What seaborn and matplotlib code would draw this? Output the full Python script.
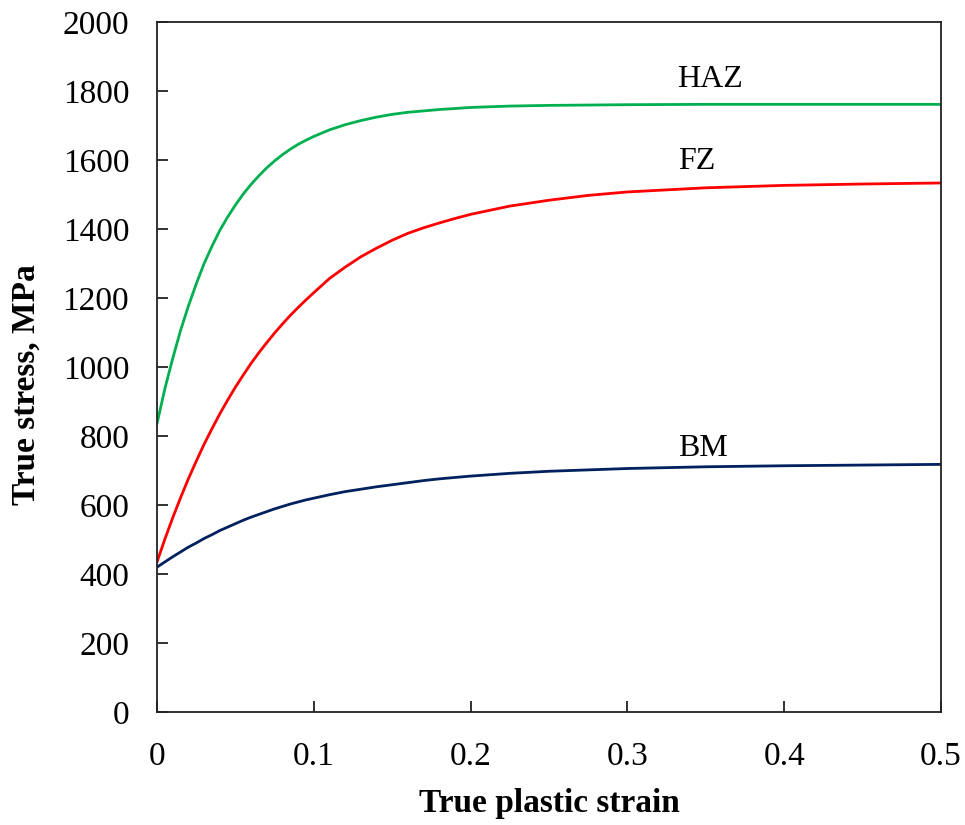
import matplotlib
matplotlib.use("Agg")
import matplotlib.pyplot as plt
import seaborn as sns
import pandas as pd

# Data
strain = [0.0, 0.005, 0.01, 0.015, 0.02, 0.025, 0.03, 0.035, 0.04, 0.045, 0.05,
          0.055, 0.06, 0.065, 0.07, 0.075, 0.08, 0.085, 0.09, 0.095, 0.10,
          0.11, 0.12, 0.13, 0.14, 0.15, 0.16, 0.17, 0.18, 0.19, 0.20,
          0.225, 0.25, 0.275, 0.30, 0.35, 0.40, 0.45, 0.50]
haz = [836, 937, 1025, 1106, 1177, 1241, 1300, 1350, 1396, 1435, 1470,
       1502, 1530, 1555, 1578, 1598, 1616, 1632, 1646, 1658, 1669,
       1688, 1703, 1715, 1725, 1733, 1739, 1743, 1747, 1750, 1753,
       1757, 1759, 1760, 1761, 1762, 1762, 1762, 1762]
fz = [435, 501, 563, 621, 676, 727, 776, 821, 864, 904, 942,
      977, 1011, 1042, 1071, 1099, 1125, 1150, 1173, 1195, 1216,
      1257, 1290, 1320, 1345, 1368, 1388, 1404, 1418, 1431, 1443,
      1467, 1484, 1498, 1508, 1520, 1527, 1531, 1534]
bm = [420, 435, 450, 464, 478, 490, 503, 514, 526, 536, 546,
      556, 565, 573, 581, 589, 596, 603, 609, 615, 620,
      630, 639, 646, 653, 659, 665, 671, 676, 680, 684,
      692, 698, 702, 706, 711, 714, 716, 718]
series_names = ["HAZ", "FZ", "BM"]
series_colors = {"HAZ": "#00B050", "FZ": "#FF0000", "BM": "#002060"}
label_pos = {"HAZ": (0.332, 1812), "FZ": (0.332, 1574), "BM": (0.332, 742)}

df = pd.concat([
    pd.DataFrame({"strain": strain, "stress": vals, "zone": name})
    for name, vals in zip(series_names, [haz, fz, bm])
], ignore_index=True)

sns.set_style("ticks")
plt.rcParams["font.family"] = ["Liberation Serif", "DejaVu Serif"]
plt.rcParams["axes.labelcolor"] = "black"
plt.rcParams["text.color"] = "black"

fig = plt.figure(figsize=(9.65, 8.25), dpi=100)
ax = fig.add_axes([0.1627, 0.137, 0.8125, 0.836])

sns.lineplot(data=df, x="strain", y="stress", hue="zone", palette=series_colors,
             linewidth=2.0, legend=False, ax=ax, sort=False, estimator=None)

for name in series_names:
    x, y = label_pos[name]
    ax.text(x, y, name, fontsize=23, color="black", ha="left", va="baseline")

ax.set_xlim(0, 0.5)
ax.set_ylim(0, 2000)
ax.set_xticks([0, 0.1, 0.2, 0.3, 0.4, 0.5])
ax.set_xticklabels(["0", "0.1", "0.2", "0.3", "0.4", "0.5"])
ax.set_yticks(range(0, 2001, 200))

ax.tick_params(axis="both", direction="in", length=8, width=1.3, color="#222222",
               labelsize=24, labelcolor="black")
ax.tick_params(axis="y", pad=20)
ax.tick_params(axis="x", pad=21)
for side in ["left", "bottom", "top", "right"]:
    ax.spines[side].set_visible(True)
    ax.spines[side].set_color("#222222")
    ax.spines[side].set_linewidth(1.3)

ax.set_xlabel("True plastic strain", fontsize=24, fontweight="bold", labelpad=12,
              color="black")
ax.set_ylabel("True stress, MPa", fontsize=24, fontweight="bold", color="black")
ax.yaxis.set_label_coords(-0.147, 0.474)

fig.savefig("out.png", dpi=100)
